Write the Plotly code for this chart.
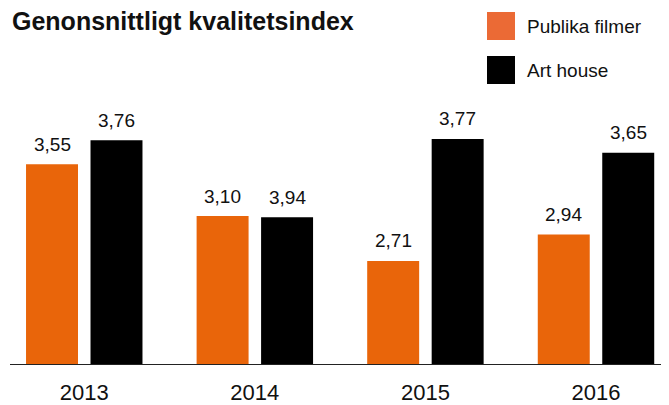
import plotly.graph_objects as go

# ---- data ----
years = ["2013", "2014", "2015", "2016"]
publika_values = [3.55, 3.10, 2.71, 2.94]
publika_labels = ["3,55", "3,10", "2,71", "2,94"]
# bar heights as drawn in the source (the 2014 art house bar is drawn at ~3.09 although labelled 3,94)
arthouse_values = [3.76, 3.09, 3.77, 3.65]
arthouse_labels = ["3,76", "3,94", "3,77", "3,65"]
series_names = ["Publika filmer", "Art house"]

title_text = "Genonsnittligt kvalitetsindex"

ORANGE = "#E9650A"
ORANGE_LEGEND = "#EB6A35"
BLACK = "#000000"
TEXT = "#111111"
FONT = "Liberation Sans"

# the page body has an 8px margin; lay out in page pixels and subtract it
BODY = 8
W, H = 669 - BODY, 405 - BODY
PLOT_LEFT, PLOT_RIGHT, PLOT_TOP, PLOT_BOTTOM = 10, 669, 100, 364   # page pixels
ML = PLOT_LEFT - BODY
MR = (W + BODY) - PLOT_RIGHT
MT = PLOT_TOP - BODY
MB = (H + BODY) - PLOT_BOTTOM
PW = W - ML - MR
PH = H - MT - MB


def px_to_paper_x(px):
    return (px - PLOT_LEFT) / PW


def px_to_paper_y(py):
    return (PLOT_BOTTOM - py) / PH


fig = go.Figure()
fig.add_trace(go.Bar(x=years, y=publika_values, name=series_names[0],
                     marker=dict(color=ORANGE, line=dict(width=0)), showlegend=False,
                     hoverinfo="skip"))
fig.add_trace(go.Bar(x=years, y=arthouse_values, name=series_names[1],
                     marker=dict(color=BLACK, line=dict(width=0)), showlegend=False,
                     hoverinfo="skip"))

# value labels above bars
offset = 0.189
annotations = []
for vals, labs, sign in ((publika_values, publika_labels, -1), (arthouse_values, arthouse_labels, 1)):
    for i, (v, t) in enumerate(zip(vals, labs)):
        annotations.append(dict(x=i + sign * offset, y=v, xref="x", yref="y", text=t,
                                showarrow=False, yanchor="middle", yshift=20,
                                font=dict(family=FONT, size=19, color=TEXT)))

# title
annotations.append(dict(x=px_to_paper_x(10), y=px_to_paper_y(21), xref="paper", yref="paper",
                        xanchor="left", yanchor="middle", text="<b>" + title_text + "</b>",
                        showarrow=False, font=dict(family=FONT, size=25, color=TEXT)))

# manual legend
legend_colors = [ORANGE_LEGEND, BLACK]
legend_rows = [(12, 40), (56, 84)]
shapes = []
for name, col, (top, bot) in zip(series_names, legend_colors, legend_rows):
    shapes.append(dict(type="rect", xref="paper", yref="paper",
                       x0=px_to_paper_x(487), x1=px_to_paper_x(515),
                       y0=px_to_paper_y(bot), y1=px_to_paper_y(top),
                       fillcolor=col, line=dict(width=0)))
    annotations.append(dict(x=px_to_paper_x(525), y=px_to_paper_y((top + bot) / 2),
                            xref="paper", yref="paper", xanchor="left", yanchor="middle",
                            text=name, showarrow=False,
                            font=dict(family=FONT, size=19, color=TEXT)))

fig.update_layout(
    width=W, height=H,
    margin=dict(l=ML, r=MR, t=MT, b=MB, autoexpand=False),
    paper_bgcolor="white", plot_bgcolor="white",
    barmode="group", bargap=0.244, bargroupgap=0.194,
    annotations=annotations, shapes=shapes,
    xaxis=dict(type="category", range=[-0.4353, 3.428], showgrid=False, zeroline=False,
               showline=True, linecolor="#222222", linewidth=1,
               ticks="outside", ticklen=9, tickcolor="rgba(0,0,0,0)",
               tickfont=dict(family=FONT, size=22, color=TEXT)),
    yaxis=dict(range=[1.815, 1.815 + PH / 115.1], visible=False, showgrid=False),
)

fig.write_html("out.html")
